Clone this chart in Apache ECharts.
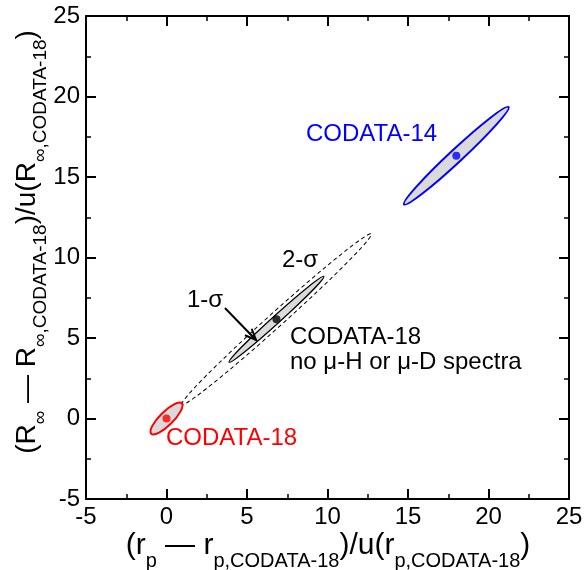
<!DOCTYPE html>
<html>
<head>
<meta charset="utf-8">
<script src="https://cdn.jsdelivr.net/npm/echarts@6/dist/echarts.min.js"></script>
<style>html,body{margin:0;padding:0;background:#fff}#chart{width:585px;height:570px}</style>
</head>
<body>
<div id="chart"></div>
<script>
// 坐标轴范围
var axisMin = -5, axisMax = 25, axisStep = 5;

// 椭圆: [cx, cy, 半长轴, 半短轴, 角度(度)]
var ellipse14 = [18.0, 16.32, 4.44, 0.4, 43];
var ellipse18 = [0.0, 0.0, 1.34, 0.42, 45];
var ellipse1s = [6.83, 6.16, 3.97, 0.24, 42.2];
var ellipse2s = [6.83, 6.16, 7.92, 0.45, 42];

// 中心点
var point14 = [18.0, 16.32];
var point18 = [0.0, 0.0];
var pointNoMu = [6.83, 6.16];

// 1-σ 箭头 [起点x, 起点y, 终点x, 终点y]
var arrow1s = [3.63, 6.86, 5.56, 4.88];

var FONT = 'Liberation Sans';
var chart = echarts.init(document.getElementById('chart'));

function ellipseItem(style) {
  return function (params, api) {
    var c = api.coord([api.value(0), api.value(1)]);
    var rx = api.size([api.value(2), 0])[0];
    var ry = api.size([0, api.value(3)])[1];
    return {
      type: 'ellipse',
      x: c[0],
      y: c[1],
      rotation: api.value(4) * Math.PI / 180,
      shape: { cx: 0, cy: 0, rx: rx, ry: ry },
      style: style
    };
  };
}

function ellipseSeries(data, style, z) {
  return {
    type: 'custom',
    coordinateSystem: 'cartesian2d',
    z: z,
    silent: true,
    data: [data],
    renderItem: ellipseItem(style)
  };
}

function axisBase(pos, showLabel) {
  return {
    type: 'value',
    position: pos,
    min: axisMin,
    max: axisMax,
    interval: axisStep,
    axisLine: { onZero: false, lineStyle: { color: '#000', width: 2 } },
    axisTick: { inside: true, length: 10, lineStyle: { color: '#000', width: 2 } },
    minorTick: { show: true, splitNumber: 2, length: 5, lineStyle: { color: '#000', width: 1.5 } },
    splitLine: { show: false },
    minorSplitLine: { show: false },
    axisLabel: { show: showLabel, fontSize: 24, color: '#000', fontFamily: FONT, margin: 6 }
  };
}

var richX = {
  m: { fontSize: 30, fontFamily: FONT, color: '#000' },
  s: { fontSize: 20, fontFamily: FONT, color: '#000', padding: [30, 0, 0, 0] }
};
var richY = {
  m: { fontSize: 28, fontFamily: FONT, color: '#000' },
  s: { fontSize: 19, fontFamily: FONT, color: '#000', padding: [28, 0, 0, 0] }
};

var option = {
  animation: false,
  grid: { left: 86, right: 16, top: 16, bottom: 71, outerBoundsMode: 'none' },
  xAxis: [axisBase('bottom', true), axisBase('top', false)],
  yAxis: [axisBase('left', true), axisBase('right', false)],
  graphic: [
    { type: 'text', x: 328, y: 546, style: { text: '{m|(r}{s|p}{m| — r}{s|p,CODATA-18}{m|)/u(r}{s|p,CODATA-18}{m|)}', rich: richX, align: 'center', verticalAlign: 'middle' } },
    { type: 'text', x: 27, y: 242, rotation: Math.PI / 2, style: { text: '{m|(R}{s|∞}{m| — R}{s|∞,CODATA-18}{m|)/u(R}{s|∞,CODATA-18}{m|)}', rich: richY, align: 'center', verticalAlign: 'middle' } },
    { type: 'text', x: 306, y: 134, style: { text: 'CODATA-14', fill: '#0000ff', font: '24px ' + FONT, verticalAlign: 'middle' } },
    { type: 'text', x: 166, y: 438, style: { text: 'CODATA-18', fill: '#ff0000', font: '24px ' + FONT, verticalAlign: 'middle' } },
    { type: 'text', x: 290, y: 325, style: { text: 'CODATA-18\nno μ-H or μ-D spectra', fill: '#000', font: '24px ' + FONT, lineHeight: 25, verticalAlign: 'top' } },
    { type: 'text', x: 282, y: 260, style: { text: '2-σ', fill: '#000', font: '24px ' + FONT, verticalAlign: 'middle' } },
    { type: 'text', x: 187, y: 300, style: { text: '1-σ', fill: '#000', font: '24px ' + FONT, verticalAlign: 'middle' } }
  ],
  series: [
    ellipseSeries(ellipse2s, { fill: null, stroke: '#000', lineWidth: 1, lineDash: [4, 3] }, 2),
    ellipseSeries(ellipse1s, { fill: '#dadada', stroke: '#000', lineWidth: 1.2 }, 3),
    ellipseSeries(ellipse18, { fill: '#dadada', stroke: '#ff0000', lineWidth: 2 }, 3),
    ellipseSeries(ellipse14, { fill: '#dadada', stroke: '#0000ff', lineWidth: 2 }, 3),
    {
      type: 'custom',
      coordinateSystem: 'cartesian2d',
      z: 4,
      silent: true,
      data: [arrow1s],
      renderItem: function (params, api) {
        var p0 = api.coord([api.value(0), api.value(1)]);
        var p1 = api.coord([api.value(2), api.value(3)]);
        var ang = Math.atan2(p1[1] - p0[1], p1[0] - p0[0]);
        var h = 12, w = 0.4;
        var a1 = [p1[0] - h * Math.cos(ang - w), p1[1] - h * Math.sin(ang - w)];
        var a2 = [p1[0] - h * Math.cos(ang + w), p1[1] - h * Math.sin(ang + w)];
        return {
          type: 'group',
          children: [
            { type: 'line', shape: { x1: p0[0], y1: p0[1], x2: p1[0], y2: p1[1] }, style: { stroke: '#000', lineWidth: 2 } },
            { type: 'polyline', shape: { points: [a1, p1, a2] }, style: { stroke: '#000', fill: null, lineWidth: 2 } }
          ]
        };
      }
    },
    {
      type: 'scatter',
      z: 5,
      symbol: 'circle',
      symbolSize: 8,
      silent: true,
      data: [
        { value: point14, itemStyle: { color: '#0000ff' } },
        { value: point18, itemStyle: { color: '#ff0000' } },
        { value: pointNoMu, itemStyle: { color: '#000' } }
      ]
    }
  ]
};
chart.setOption(option);
</script>
</body>
</html>
